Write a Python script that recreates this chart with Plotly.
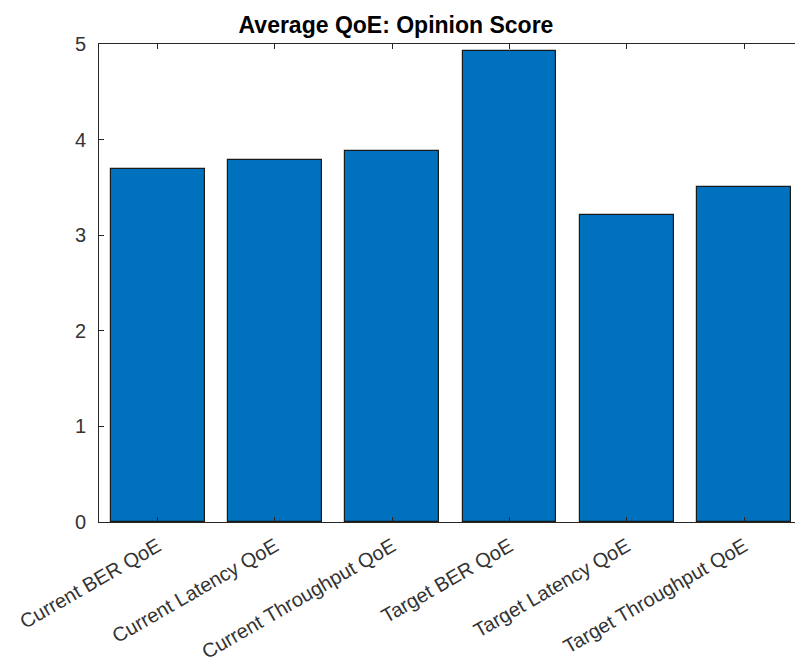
import plotly.graph_objects as go

categories = ["Current BER QoE", "Current Latency QoE", "Current Throughput QoE",
              "Target BER QoE", "Target Latency QoE", "Target Throughput QoE"]
scores = [3.69, 3.79, 3.88, 4.93, 3.21, 3.50]
y_ticks = [0, 1, 2, 3, 4, 5]

positions = list(range(1, len(categories) + 1))

fig = go.Figure(go.Bar(
    x=positions,
    y=scores,
    width=0.8,
    marker=dict(color="#0072BD", line=dict(color="#1a1a1a", width=1.2)),
))

axis_font = dict(family="Liberation Sans, Arial, sans-serif", size=20, color="#333333")

fig.update_layout(
    width=795,
    height=669,
    margin=dict(l=99, r=0, t=44, b=147),
    plot_bgcolor="white",
    paper_bgcolor="white",
    showlegend=False,
    bargap=0,
    title=dict(
        text="<b>Average QoE: Opinion Score</b>",
        x=396 / 795, xanchor="center",
        y=1 - 25 / 669, yanchor="middle",
        font=dict(family="Liberation Sans, Arial, sans-serif", size=23, color="black"),
    ),
    xaxis=dict(
        range=[0.5, 6.434],
        tickmode="array",
        tickvals=positions,
        ticktext=categories,
        tickangle=-30,
        ticks="inside",
        ticklen=5,
        tickcolor="#262626",
        showline=True,
        linecolor="#262626",
        linewidth=1,
        mirror="ticks",
        showgrid=False,
        zeroline=False,
        tickfont=axis_font,
        ticklabelstandoff=4,
    ),
    yaxis=dict(
        range=[0, 5],
        tickmode="array",
        tickvals=y_ticks,
        ticks="inside",
        ticklen=5,
        tickcolor="#262626",
        showline=True,
        linecolor="#262626",
        linewidth=1,
        showgrid=False,
        zeroline=False,
        tickfont=axis_font,
        ticklabelstandoff=8,
    ),
)

fig.write_html("out.html")
